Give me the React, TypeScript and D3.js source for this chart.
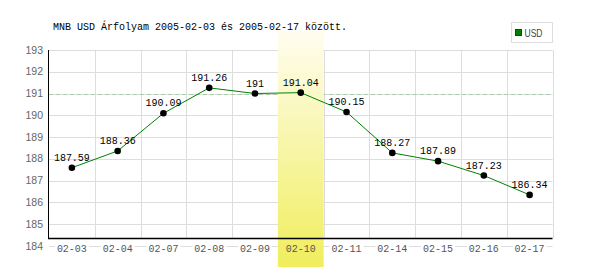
import React from "react";
import * as d3 from "d3";

const title = "MNB USD Árfolyam 2005-02-03 és 2005-02-17 között.";
const categories = ["02-03", "02-04", "02-07", "02-08", "02-09", "02-10", "02-11", "02-14", "02-15", "02-16", "02-17"];
const values = [187.59, 188.36, 190.09, 191.26, 191, 191.04, 190.15, 188.27, 187.89, 187.23, 186.34];
const yTicks = [184, 185, 186, 187, 188, 189, 190, 191, 192, 193];
const highlightIndex = 5;
const refLine = 191;
const seriesName = "USD";

export default function App() {
  const W = 600, H = 270;
  const left = 49, right = 552.5, top = 50, axisY = 238;
  const x = d3.scaleBand<string>().domain(categories).range([left, right]).padding(0);
  const y = d3.scaleLinear().domain([184, 193]).range([245.8, 50]);
  const bw = x.bandwidth();
  const cx = (c: string) => (x(c) as number) + bw / 2;
  const px = (v: number) => Math.round(v) + 0.5;
  const line = d3.line<number>().x((_, i) => cx(categories[i])).y((v) => y(v));
  const hx = x(categories[highlightIndex]) as number;
  const mono = "'Liberation Mono', 'DejaVu Sans Mono', monospace";
  const sans = "'Liberation Sans', Arial, sans-serif";
  const tl = (s: string) => s.length * 6;

  return (
    <svg width={W} height={H} style={{ position: "absolute", left: 0, top: 0, background: "#fff" }}>
      <defs>
        <linearGradient id="hl" x1="0" y1="0" x2="0" y2="1">
          <stop offset="0%" stopColor="#fffdf0" />
          <stop offset="100%" stopColor="#f0ee5c" />
        </linearGradient>
      </defs>
      <rect x={0} y={0} width={W} height={H} fill="#fff" />
      {/* title */}
      <text x={53} y={29.5} fontFamily={mono} fontSize={11} fill="#000" textLength={tl(title)} lengthAdjust="spacingAndGlyphs">{title}</text>
      {/* legend */}
      <rect x={511.5} y={22.5} width={41} height={20} fill="#fff" stroke="#ddd" />
      <rect x={515.5} y={29.5} width={6} height={6} fill="#008000" stroke="#333" />
      <text x={524.5} y={36.7} fontFamily={sans} fontSize={10.5} fill="#444" textLength={18} lengthAdjust="spacingAndGlyphs">{seriesName}</text>
      {/* horizontal grid */}
      {yTicks.map((t) => (
        <line key={"h" + t} x1={left} x2={right} y1={px(y(t))} y2={px(y(t))} stroke="#ddd" />
      ))}
      {/* vertical grid */}
      {categories.map((c) => (
        <line key={"v" + c} x1={px((x(c) as number) + bw)} x2={px((x(c) as number) + bw)} y1={top} y2={axisY} stroke="#ddd" />
      ))}
      {/* reference dashed line */}
      <line x1={left} x2={right} y1={px(y(refLine))} y2={px(y(refLine))} stroke="#a8cca8" strokeDasharray="4,3" />
      {/* x label backgrounds */}
      {categories.map((c, i) =>
        i === highlightIndex ? null : (
          <rect key={"lb" + c} x={cx(c) - 17} y={241} width={34} height={12} fill="#fff" />
        )
      )}
      {/* highlight band */}
      <rect x={hx} y={31} width={bw} height={236} fill="url(#hl)" />
      {/* axes */}
      <line x1={px(left) - 1} x2={px(left) - 1} y1={top} y2={axisY + 1} stroke="#000" />
      <line x1={left - 1} x2={right} y1={axisY + 0.5} y2={axisY + 0.5} stroke="#000" strokeWidth={1.3} />
      {/* y labels */}
      {yTicks.map((t) => (
        <text key={"yl" + t} x={43} y={y(t) + 3.7} textAnchor="end" fontFamily={sans} fontSize={10.5} fill="#666">{t}</text>
      ))}
      {/* x labels */}
      {categories.map((c) => (
        <text key={"xl" + c} x={cx(c)} y={251.5} textAnchor="middle" fontFamily={mono} fontSize={11} fill="#555" textLength={tl(c)} lengthAdjust="spacingAndGlyphs">{c}</text>
      ))}
      {/* data line */}
      <path d={line(values) || ""} fill="none" stroke="#008000" strokeWidth={1} />
      {values.map((v, i) => (
        <circle key={"p" + i} cx={cx(categories[i])} cy={y(v)} r={3.3} fill="#000" />
      ))}
      {values.map((v, i) => (
        <text key={"t" + i} x={cx(categories[i])} y={y(v) - 7} textAnchor="middle" fontFamily={mono} fontSize={11} fill="#000" textLength={tl(String(v))} lengthAdjust="spacingAndGlyphs">{String(v)}</text>
      ))}
    </svg>
  );
}
